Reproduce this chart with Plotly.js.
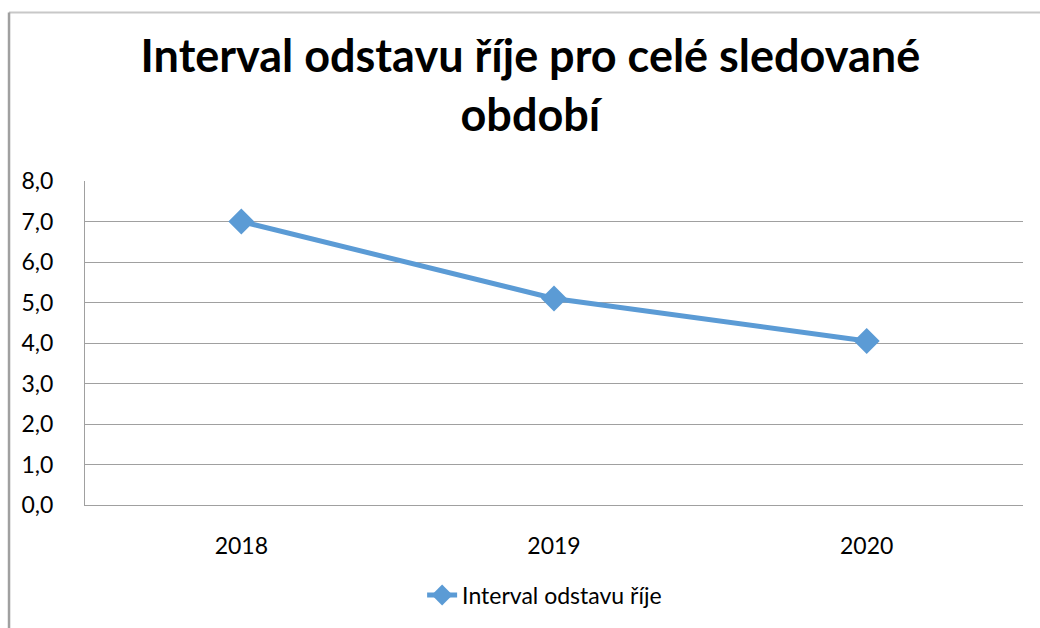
<!DOCTYPE html>
<html>
<head>
<meta charset="utf-8">
<script src="https://cdn.plot.ly/plotly-3.0.1.min.js"></script>
<style>html,body{margin:0;padding:0;background:#fff;}#chart{width:1040px;height:628px;}</style>
</head>
<body>
<div id="chart"></div>
<script>
const titleText = "Interval odstavu říje pro celé sledované<br>období";
const seriesName = "Interval odstavu říje";
const years = ["2018", "2019", "2020"];
const values = [7.0, 5.1, 4.05];
const yTicks = [0, 1, 2, 3, 4, 5, 6, 7, 8];

const FONT = "Lato, 'Open Sans', sans-serif";
const BLUE = "#5B9BD5";
const GRID = "#a0a0a0";

const trace = {
  type: "scatter",
  mode: "lines+markers",
  name: seriesName,
  x: years,
  y: values,
  line: {color: BLUE, width: 5},
  marker: {symbol: "diamond", size: 20, color: BLUE},
  showlegend: true
};

const layout = {
  width: 1040,
  height: 628,
  margin: {l: 85, r: 17, t: 181, b: 123},
  paper_bgcolor: "#ffffff",
  plot_bgcolor: "#ffffff",
  separators: ", ",
  font: {family: FONT, color: "#000000", size: 23},
  title: {
    text: titleText,
    font: {family: FONT, size: 45, color: "#000000", weight: "bold"},
    x: 0.51, xanchor: "center",
    y: 0.885, yanchor: "top"
  },
  xaxis: {
    type: "category",
    range: [-0.5, 2.5],
    showgrid: false,
    zeroline: false,
    showline: true,
    linecolor: GRID,
    linewidth: 1,
    ticks: "",
    ticklabelstandoff: 20,
    tickfont: {family: FONT, size: 23, color: "#000"},
    fixedrange: true
  },
  yaxis: {
    range: [0, 8],
    tickvals: yTicks,
    tickformat: ".1f",
    showgrid: true,
    gridcolor: GRID,
    gridwidth: 1,
    zeroline: false,
    showline: true,
    linecolor: GRID,
    linewidth: 1,
    ticks: "",
    ticklabelstandoff: 26,
    tickfont: {family: FONT, size: 23, color: "#000"},
    fixedrange: true
  },
  legend: {
    orientation: "h",
    x: 0.49, xanchor: "center",
    y: -0.278, yanchor: "middle",
    font: {family: FONT, size: 23, color: "#000"},
    bgcolor: "rgba(0,0,0,0)"
  },
  shapes: [
    {type: "line", xref: "paper", yref: "paper", x0: -0.0810, x1: 1.05, y0: 1.52, y1: 1.52,
     line: {color: "#c8c8c8", width: 2}},
    {type: "line", xref: "paper", yref: "paper", x0: -0.0810, x1: -0.0810, y0: 1.52, y1: -0.45,
     line: {color: "#a0a0a0", width: 2.5}}
  ]
};

Plotly.newPlot("chart", [trace], layout, {displayModeBar: false, staticPlot: true});
</script>
</body>
</html>
